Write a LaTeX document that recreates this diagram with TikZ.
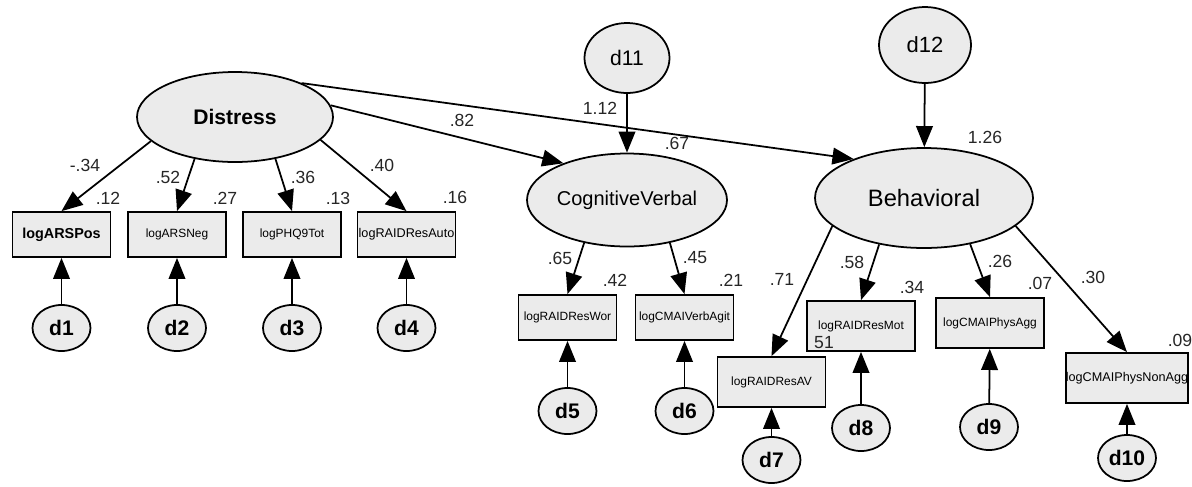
\documentclass[tikz,border=0pt]{standalone}
\usepackage{fontspec}
\setmainfont{Liberation Sans}
\usetikzlibrary{arrows.meta,shapes.geometric}

\begin{document}
\begin{tikzpicture}[
    latent/.style={ellipse, draw, line width=1pt, fill=black!8, inner sep=0pt},
    errvar/.style={ellipse, draw, line width=1pt, fill=black!8, inner sep=0pt,
        minimum width=1.16cm, minimum height=0.92cm, font=\fontsize{12}{12}\selectfont\bfseries},
    obsvar/.style={rectangle, draw, line width=1pt, fill=black!8, inner sep=0pt,
        minimum width=1.96cm, minimum height=0.9cm, font=\fontsize{6.8}{7}\selectfont},
    obsbig/.style={obsvar, minimum width=2.16cm, minimum height=1cm},
    path/.style={line width=1pt, -{Triangle[length=12pt,width=9.5pt]}},
    coef/.style={font=\fontsize{10}{10}\selectfont, text=black!85, inner sep=0pt}
]
    \useasboundingbox (0,0) rectangle (23.84,-9.72);

    % Latent variables
    \node[latent, minimum width=3.92cm, minimum height=1.8cm, font=\fontsize{12}{12}\selectfont\bfseries] (distress) at (4.70,-2.34) {Distress};
    \node[latent, minimum width=4.0cm, minimum height=1.86cm, font=\fontsize{11.4}{12}\selectfont] (cogverb) at (12.54,-4.00) {CognitiveVerbal};
    \node[latent, minimum width=4.36cm, minimum height=2.0cm, font=\fontsize{13.5}{14}\selectfont] (behav) at (18.48,-3.96) {Behavioral};

    % Disturbances
    \node[latent, minimum width=1.7cm, minimum height=1.4cm, font=\fontsize{12}{12}\selectfont] (d11) at (12.54,-1.16) {d11};
    \node[latent, minimum width=1.84cm, minimum height=1.52cm, font=\fontsize{12.5}{13}\selectfont] (d12) at (18.50,-0.90) {d12};

    % Indicators of Distress
    \node[obsvar, font=\fontsize{8.2}{9}\selectfont\bfseries] (arspos) at (1.23,-4.69) {logARSPos};
    \node[obsvar] (arsneg) at (3.54,-4.69) {logARSNeg};
    \node[obsvar] (phq) at (5.84,-4.69) {logPHQ9Tot};
    \node[obsvar, font=\fontsize{7.2}{8}\selectfont] (resauto) at (8.13,-4.69) {logRAIDResAuto};

    % Indicators of CognitiveVerbal
    \node[obsvar] (reswor) at (11.35,-6.35) {logRAIDResWor};
    \node[obsvar] (verbagit) at (13.69,-6.35) {logCMAIVerbAgit};

    % Indicators of Behavioral
    \node[obsbig] (resav) at (15.43,-7.64) {logRAIDResAV};
    \node[obsbig] (resmot) at (17.22,-6.52) {logRAIDResMot};
    \node[obsbig] (physagg) at (19.80,-6.46) {logCMAIPhysAgg};
    \node[obsbig, font=\fontsize{7.2}{8}\selectfont] (physnon) at (22.54,-7.56) {logCMAIPhysNonAgg};

    % Error terms
    \node[errvar] (d1) at (1.23,-6.56) {d1};
    \node[errvar] (d2) at (3.54,-6.56) {d2};
    \node[errvar] (d3) at (5.84,-6.56) {d3};
    \node[errvar] (d4) at (8.13,-6.56) {d4};
    \node[errvar] (d5) at (11.35,-8.22) {d5};
    \node[errvar] (d6) at (13.69,-8.22) {d6};
    \node[errvar] (d7) at (15.43,-9.20) {d7};
    \node[errvar] (d8) at (17.22,-8.56) {d8};
    \node[errvar] (d9) at (19.78,-8.54) {d9};
    \node[errvar] (d10) at (22.54,-9.16) {d10};

    % Structural paths
    \draw[path] (distress.7) -- (cogverb.150);
    \draw[path] (distress.27) -- (behav.151);
    \draw[path] (d11) -- (cogverb);
    \draw[path] (d12) -- (behav);

    % Loadings
    \draw[path] (distress.196) -- (arspos.north);
    \draw[path] (distress.226) -- (arsneg.north);
    \draw[path] (distress.314) -- (phq.north);
    \draw[path] (distress.345) -- (resauto.north);
    \draw[path] (cogverb.225) -- (reswor.north);
    \draw[path] (cogverb.315) -- (verbagit.north);
    \draw[path] (behav.197) -- (resav.north);
    \draw[path] (behav.226) -- (resmot.north);
    \draw[path] (behav.315) -- (physagg.north);
    \draw[path] (behav.343) -- (physnon.north);

    % Errors into indicators
    \foreach \e/\v in {d1/arspos, d2/arsneg, d3/phq, d4/resauto, d5/reswor, d6/verbagit,
                       d7/resav, d8/resmot, d9/physagg, d10/physnon}
        \draw[path] (\e) -- (\v);

    % Coefficients
    \node[coef] (cpos) at (1.70,-3.30) {-.34};
    \node[coef] (cneg) at (3.36,-3.54) {.52};
    \node[coef] (cphq) at (6.06,-3.54) {.36};
    \node[coef] (cauto) at (7.64,-3.30) {.40};
    \node[coef] (ccog) at (9.24,-2.40) {.82};
    \node[coef] (cdel) at (12.00,-2.16) {1.12};
    \node[coef] (cwor) at (11.20,-5.16) {.65};
    \node[coef] (cagit) at (13.90,-5.16) {.45};
    \node[coef] (cav) at (15.64,-5.58) {.71};
    \node[coef] (cmot) at (17.04,-5.24) {.58};
    \node[coef] (cagg) at (20.00,-5.22) {.26};
    \node[coef] (cnon) at (21.86,-5.54) {.30};

    % Squared multiple correlations
    \node[coef] (rpos) at (2.16,-3.96) {.12};
    \node[coef] (rneg) at (4.50,-3.96) {.27};
    \node[coef] (rphq) at (6.76,-3.96) {.13};
    \node[coef] (rauto) at (9.10,-3.94) {.16};
    \node[coef] (rcog) at (13.54,-2.86) {.67};
    \node[coef] (rbeh) at (19.70,-2.74) {1.26};
    \node[coef] (rwor) at (12.30,-5.60) {.42};
    \node[coef] (ragit) at (14.62,-5.60) {.21};
    \node[coef] (rmot) at (18.24,-5.74) {.34};
    \node[coef] (ragg) at (20.80,-5.66) {.07};
    \node[coef] (rnon) at (23.60,-6.80) {.09};
    \node[coef] (rav) at (16.48,-6.86) {51};
\end{tikzpicture}
\end{document}
